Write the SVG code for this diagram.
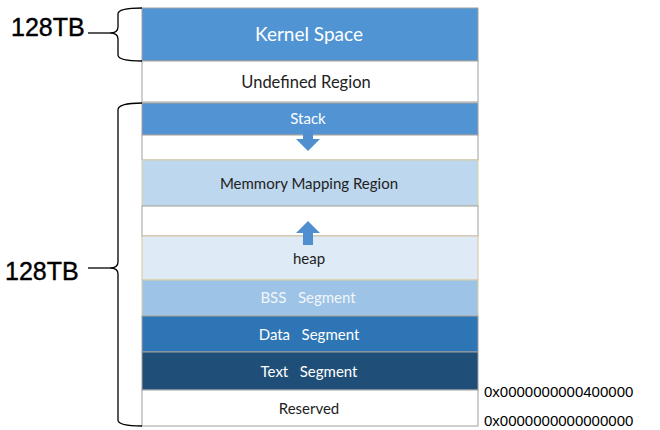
<svg xmlns="http://www.w3.org/2000/svg" width="660" height="430" viewBox="0 0 660 430">
<style>
.t{font-family:"Lato","Open Sans","Liberation Sans",sans-serif;font-size:15px;text-anchor:middle;white-space:pre}
.w{fill:#ffffff}
.d{fill:#222222}
.big{font-family:"Liberation Sans",Arial,sans-serif;font-size:25px;fill:#000;stroke:#000;stroke-width:0.4}
.addr{font-family:"Liberation Sans",Arial,sans-serif;font-size:15px;fill:#000}
.brace{fill:none;stroke:#000;stroke-width:1.3}
.cell{stroke:#a0a0a0;stroke-width:1}
</style>
<rect width="660" height="430" fill="#ffffff"/>
<g id="kernel"><rect class="cell" x="142" y="8" width="336" height="53" fill="#5194d4"/><text class="t w" x="309" y="41" style="font-size:19px">Kernel Space</text></g>
<g id="undefined"><rect class="cell" x="142" y="61" width="336" height="41" fill="#ffffff"/><text class="t d" x="306" y="88" style="font-size:16.5px">Undefined Region</text></g>
<g id="stack"><rect class="cell" x="142" y="103" width="336" height="32" fill="#5293d3"/><text class="t w" x="308" y="124">Stack</text></g>
<g id="gap1"><rect class="cell" x="142" y="135" width="336" height="25" fill="#ffffff"/></g>
<g id="mmap"><rect x="142" y="160" width="336" height="46" fill="#bdd7ee" stroke="#d9cfa0" stroke-width="1"/><text class="t d" x="309" y="189">Memmory Mapping Region</text></g>
<g id="gap2"><rect class="cell" x="142" y="206" width="336" height="30" fill="#ffffff"/></g>
<g id="heap"><rect x="142" y="236" width="336" height="44" fill="#deebf7" stroke="#d9c3a0" stroke-width="1"/><text class="t d" x="309" y="264">heap</text></g>
<g id="bss"><rect x="142" y="280" width="336" height="36" fill="#9dc3e6" stroke="#d9cfa0" stroke-width="1"/><text class="t" x="308" y="303" fill="#f2f6fb" xml:space="preserve">BSS   Segment</text></g>
<g id="data"><rect class="cell" x="142" y="316" width="336" height="36" fill="#2e75b6"/><text class="t w" x="309" y="340" xml:space="preserve">Data   Segment</text></g>
<g id="text"><rect class="cell" x="142" y="352" width="336" height="38" fill="#1f4e79"/><text class="t w" x="309" y="377" xml:space="preserve">Text   Segment</text></g>
<g id="reserved"><rect class="cell" x="142" y="390" width="336" height="36" fill="#ffffff"/><text class="t d" x="309" y="414">Reserved</text></g>
<g id="connectors">
<path d="M303 130 h10 v9 h7 l-12 12 l-12 -12 h7 z" fill="#4f8fd0"/>
<path d="M303 245 h10 v-12 h7 l-12 -12 l-12 12 h7 z" fill="#4f8fd0"/>
<path class="brace" d="M142 8 Q118 8 118 14 V27 Q118 33 110 33 Q118 33 118 39 V55 Q118 61 142 61"/>
<path class="brace" d="M88 33 H110"/>
<path class="brace" d="M142 103 Q118 103 118 110 V262 Q118 268 110 268 Q118 268 118 274 V420 Q118 426 142 426"/>
<path class="brace" d="M88 268 H110"/>
</g>
<g id="labels">
<text class="big" x="11" y="36">128TB</text>
<text class="big" x="5" y="280">128TB</text>
<text class="addr" x="484" y="397">0x0000000000400000</text>
<text class="addr" x="484" y="426">0x0000000000000000</text>
</g>
</svg>
